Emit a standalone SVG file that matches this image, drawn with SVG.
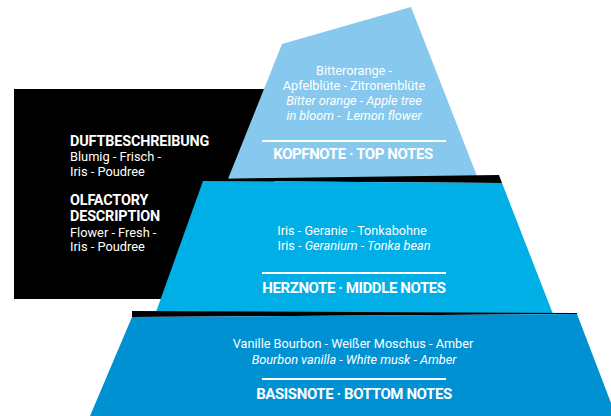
<svg xmlns="http://www.w3.org/2000/svg" width="611" height="416" viewBox="0 0 611 416">
  <style>
    .t { font-family: Roboto, "Liberation Sans", sans-serif; fill: #ffffff; text-anchor: middle; }
    .n { font-size: 12.7px; }
    .i { font-style: italic; }
    .h { font-size: 15px; font-weight: bold; letter-spacing: -0.4px; }
    .d { font-family: Roboto, "Liberation Sans", sans-serif; fill: #ffffff; }
    .dh { font-size: 14.4px; font-weight: bold; letter-spacing: -0.15px; }
    .dn { font-size: 12.8px; }
    .rule { stroke: #ffffff; stroke-width: 2; }
  </style>
  <rect width="611" height="416" fill="#ffffff"/>

  <!-- description panel behind the pyramid -->
  <g id="description">
    <rect x="14" y="89" width="260" height="210" fill="#000000"/>
    <text class="d dh" x="70" y="146">DUFTBESCHREIBUNG</text>
    <text class="d dn" x="70" y="161">Blumig - Frisch -</text>
    <text class="d dn" x="70" y="176">Iris - Poudree</text>
    <text class="d dh" x="70" y="205">OLFACTORY</text>
    <text class="d dh" x="70" y="221">DESCRIPTION</text>
    <text class="d dn" x="70" y="236.5">Flower - Fresh -</text>
    <text class="d dn" x="70" y="251">Iris - Poudree</text>
  </g>

  <!-- top tier -->
  <g id="top-notes">
    <polygon points="282,44 411,7 477,176 228,179" fill="#87C8EE"/>
    <text class="t n" x="354" y="75">Bitterorange -</text>
    <text class="t n" x="354" y="90">Apfelblüte - Zitronenblüte</text>
    <text class="t n i" x="354" y="105">Bitter orange - Apple tree</text>
    <text class="t n i" x="354" y="120" xml:space="preserve">in bloom -  Lemon flower</text>
    <line class="rule" x1="262" y1="141" x2="446" y2="141"/>
    <text class="t h" x="353" y="159">KOPFNOTE · TOP NOTES</text>
  </g>

  <!-- middle tier with its dark top edge -->
  <g id="middle-notes">
    <polygon points="205,179 499,175 502,183 203,181" fill="#000000"/>
    <polygon points="203,181 502,183 553,314 156,312" fill="#00AFE6"/>
    <text class="t n" x="352" y="235">Iris - Geranie - Tonkabohne</text>
    <text class="t n" x="354" y="250">Iris - <tspan class="i">Geranium - Tonka bean</tspan></text>
    <line class="rule" x1="262" y1="273" x2="446" y2="273"/>
    <text class="t h" x="354" y="293">HERZNOTE · MIDDLE NOTES</text>
  </g>

  <!-- bottom tier with its dark top edge -->
  <g id="bottom-notes">
    <polygon points="132,311 577,313 577,314 132,317" fill="#000000"/>
    <polygon points="132,317 577,314 611,403 611,416 90,416" fill="#0091D3"/>
    <text class="t n" x="353" y="348">Vanille Bourbon - Weißer Moschus - Amber</text>
    <text class="t n i" x="354" y="364">Bourbon vanilla - White musk - Amber</text>
    <line class="rule" x1="262" y1="379" x2="446" y2="379"/>
    <text class="t h" x="354" y="399">BASISNOTE · BOTTOM NOTES</text>
  </g>
</svg>
